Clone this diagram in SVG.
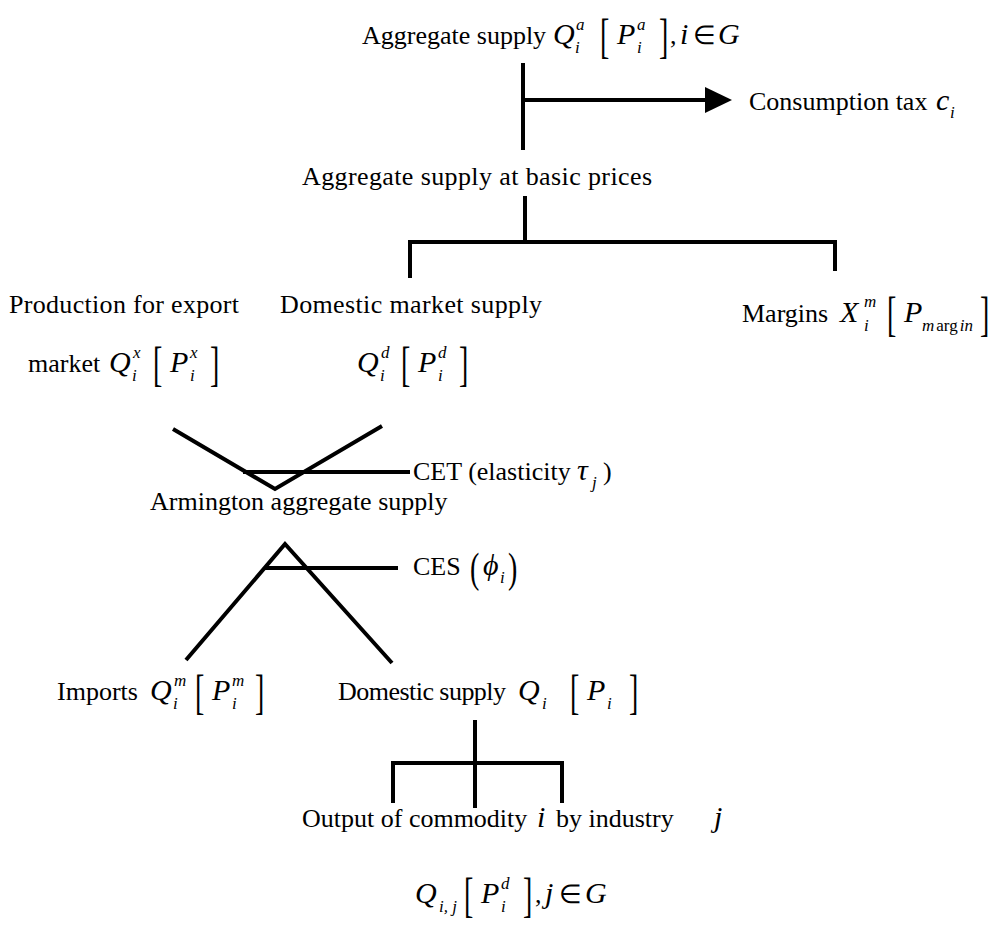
<svg xmlns="http://www.w3.org/2000/svg" width="995" height="927" viewBox="0 0 995 927">
<style>
text{font-family:"Liberation Serif","Times New Roman",serif;fill:#000}
.t{font-size:26px}
.m{font-size:30px;font-style:italic}
.s{font-size:17px;font-style:italic}
.su{font-size:17px}
.br{font-size:28px}
.c{stroke:#000;stroke-width:4;fill:none}
</style>
<rect width="995" height="927" fill="#fff"/>
<g id="connectors">
<line class="c" x1="523" y1="63" x2="523" y2="150"/>
<line class="c" x1="523" y1="100" x2="708" y2="100"/>
<polygon points="705,87 732,100 705,113" fill="#000"/>
<line class="c" x1="525" y1="196" x2="525" y2="242"/>
<polyline class="c" points="410,278 410,242 835,242 835,271"/>
<polyline class="c" points="173,429 275,489 382,426"/>
<line class="c" x1="243" y1="472" x2="410" y2="472"/>
<polyline class="c" points="186,660 285,544 392,663"/>
<line class="c" x1="264" y1="568" x2="398" y2="568"/>
<line class="c" x1="475" y1="720" x2="475" y2="808"/>
<polyline class="c" points="393,803 393,763 562,763 562,803"/>
</g>
<g id="aggregate-supply">
<text class="t" x="362" y="44">Aggregate supply</text>
<text class="m" x="553" y="44">Q</text>
<text class="s" x="576" y="30">a</text>
<text class="s" x="575" y="53">i</text>
<text class="br" transform="translate(600,52) scale(1,1.75)">[</text>
<text class="m" x="617" y="44">P</text>
<text class="s" x="637" y="30">a</text>
<text class="s" x="637" y="53">i</text>
<text class="br" transform="translate(659,52) scale(1,1.75)">]</text>
<text class="t" x="670" y="44">,</text>
<text class="m" x="680" y="44">i</text>
<text class="t" x="693" y="44">∈</text>
<text class="m" x="718" y="44">G</text>
</g>
<g id="consumption-tax">
<text class="t" x="749" y="110">Consumption tax</text>
<text class="m" x="936" y="110">c</text>
<text class="s" x="950" y="118">i</text>
</g>
<g id="basic-prices">
<text class="t" x="302" y="185" textLength="350" lengthAdjust="spacing">Aggregate supply at basic prices</text>
</g>
<g id="export">
<text class="t" x="9" y="313" textLength="230" lengthAdjust="spacing">Production for export</text>
<text class="t" x="28" y="372">market</text>
<text class="m" x="109" y="372">Q</text>
<text class="s" x="133" y="358">x</text>
<text class="s" x="132" y="381">i</text>
<text class="br" transform="translate(153,380) scale(1,1.75)">[</text>
<text class="m" x="170" y="372">P</text>
<text class="s" x="190" y="358">x</text>
<text class="s" x="190" y="381">i</text>
<text class="br" transform="translate(210,380) scale(1,1.75)">]</text>
</g>
<g id="domestic-market">
<text class="t" x="280" y="313" textLength="262" lengthAdjust="spacing">Domestic market supply</text>
<text class="m" x="357" y="372">Q</text>
<text class="s" x="381" y="358">d</text>
<text class="s" x="380" y="381">i</text>
<text class="br" transform="translate(401,380) scale(1,1.75)">[</text>
<text class="m" x="418" y="372">P</text>
<text class="s" x="438" y="358">d</text>
<text class="s" x="438" y="381">i</text>
<text class="br" transform="translate(459,380) scale(1,1.75)">]</text>
</g>
<g id="margins">
<text class="t" x="742" y="322">Margins</text>
<text class="m" x="840" y="322">X</text>
<text class="s" x="864" y="307">m</text>
<text class="s" x="864" y="331">i</text>
<text class="br" transform="translate(887,330) scale(1,1.75)">[</text>
<text class="m" x="904" y="322">P</text>
<text class="su" x="922" y="331"><tspan font-style="italic">m</tspan><tspan dx="2">arg</tspan><tspan dx="2" font-style="italic">in</tspan></text>
<text class="br" transform="translate(980,330) scale(1,1.75)">]</text>
</g>
<g id="cet">
<text class="t" x="413" y="480">CET (elasticity</text>
<text class="m" x="577" y="480">τ</text>
<text class="s" x="592" y="488">j</text>
<text class="t" x="603" y="480">)</text>
</g>
<g id="armington">
<text class="t" x="150" y="510">Armington aggregate supply</text>
</g>
<g id="ces">
<text class="t" x="413" y="575">CES</text>
<text class="br" transform="translate(470,582) scale(1,1.5)">(</text>
<text class="m" x="483" y="575">ϕ</text>
<text class="s" x="500" y="583">i</text>
<text class="br" transform="translate(508,582) scale(1,1.5)">)</text>
</g>
<g id="imports">
<text class="t" x="57" y="700">Imports</text>
<text class="m" x="150" y="700">Q</text>
<text class="s" x="174" y="686">m</text>
<text class="s" x="173" y="709">i</text>
<text class="br" transform="translate(195,708) scale(1,1.75)">[</text>
<text class="m" x="212" y="700">P</text>
<text class="s" x="232" y="686">m</text>
<text class="s" x="232" y="709">i</text>
<text class="br" transform="translate(255,708) scale(1,1.75)">]</text>
</g>
<g id="domestic-supply">
<text class="t" x="338" y="700" textLength="168" lengthAdjust="spacing">Domestic supply</text>
<text class="m" x="518" y="700">Q</text>
<text class="s" x="542" y="709">i</text>
<text class="br" transform="translate(570,708) scale(1,1.75)">[</text>
<text class="m" x="587" y="700">P</text>
<text class="s" x="607" y="709">i</text>
<text class="br" transform="translate(629,708) scale(1,1.75)">]</text>
</g>
<g id="output">
<text class="t" x="302" y="827">Output of commodity</text>
<text class="m" x="537" y="827">i</text>
<text class="t" x="556" y="827">by industry</text>
<text class="m" x="714" y="827">j</text>
<text class="m" x="415" y="903">Q</text>
<text class="s" x="439" y="912">i, j</text>
<text class="br" transform="translate(464,911) scale(1,1.75)">[</text>
<text class="m" x="481" y="903">P</text>
<text class="s" x="501" y="889">d</text>
<text class="s" x="501" y="912">i</text>
<text class="br" transform="translate(523,911) scale(1,1.75)">]</text>
<text class="t" x="535" y="903">,</text>
<text class="m" x="545" y="903">j</text>
<text class="t" x="559" y="903">∈</text>
<text class="m" x="585" y="903">G</text>
</g>
</svg>
